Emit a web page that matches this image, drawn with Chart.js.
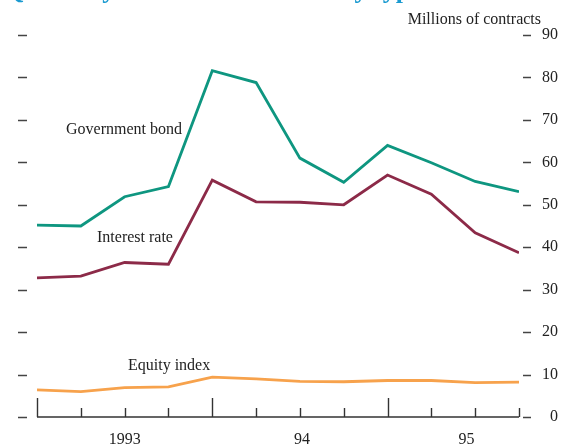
<!DOCTYPE html>
<html>
<head>
<meta charset="utf-8">
<script src="https://cdn.jsdelivr.net/npm/chart.js@4/dist/chart.umd.min.js"></script>
<style>
  html, body { margin: 0; padding: 0; background: #fff; }
  #wrap { width: 563px; height: 448px; position: relative; }
</style>
</head>
<body>
<div id="wrap"><canvas id="chart"></canvas></div>
<script>
// quarters, 1993 Q1 .. 1995 Q4 (positions on the x axis)
const quarters = [0, 1, 2, 3, 4, 5, 6, 7, 8, 9, 10, 11];
const governmentBond = [45.2, 45.0, 51.9, 54.3, 81.6, 78.8, 61.0, 55.3, 64.0, 59.9, 55.5, 53.1];
const interestRate = [32.8, 33.2, 36.4, 36.0, 55.8, 50.7, 50.6, 50.0, 57.0, 52.5, 43.4, 38.7];
const equityIndex = [6.4, 6.0, 6.9, 7.1, 9.4, 9.0, 8.4, 8.3, 8.6, 8.6, 8.1, 8.2];

const yearLabels = ['1993', '94', '95'];
const yearLabelPos = [2, 6.05, 9.8];
const yearStarts = [0, 4, 8];
const yTicks = [0, 10, 20, 30, 40, 50, 60, 70, 80, 90];

const serif = '"Liberation Serif", "DejaVu Serif", serif';

const toPoints = (vals) => vals.map((v, i) => ({ x: quarters[i], y: v }));

// axis line, tick marks, dashes and the text labels
const decorations = {
  id: 'decorations',
  afterDraw(chart) {
    const { ctx, scales: { x, y } } = chart;
    const base = y.getPixelForValue(0);
    ctx.save();
    ctx.strokeStyle = '#333';
    ctx.lineWidth = 1.4;
    ctx.beginPath();
    ctx.moveTo(x.getPixelForValue(0), base);
    ctx.lineTo(x.getPixelForValue(11), base);
    quarters.forEach(q => {
      const px = Math.round(x.getPixelForValue(q)) + 0.5;
      const h = yearStarts.includes(q) ? 19 : 9;
      ctx.moveTo(px, base);
      ctx.lineTo(px, base - h);
    });
    ctx.stroke();

    ctx.strokeStyle = '#444';
    ctx.lineWidth = 1.5;
    ctx.beginPath();
    yTicks.forEach(t => {
      const py = Math.round(y.getPixelForValue(t)) + 0.5;
      ctx.moveTo(18, py); ctx.lineTo(27, py);
      ctx.moveTo(523, py); ctx.lineTo(531, py);
    });
    ctx.stroke();

    ctx.fillStyle = '#222';
    ctx.font = '16px ' + serif;
    ctx.textBaseline = 'middle';
    ctx.textAlign = 'left';
    ctx.fillText('Government bond', 66, 130);
    ctx.fillText('Interest rate', 97, 238);
    ctx.fillText('Equity index', 128, 366);
    ctx.textAlign = 'right';
    ctx.fillText('Millions of contracts', 541, 20);

    // title, mostly cut off by the top edge
    ctx.fillStyle = '#1a9ad0';
    ctx.font = 'bold 26px ' + serif;
    ctx.textAlign = 'left';
    ctx.textBaseline = 'alphabetic';
    ctx.fillText('Quarterly turnover of futures by type', 4, -2);
    ctx.restore();
  }
};

const line = (data, color) => ({
  data: toPoints(data),
  borderColor: color,
  borderWidth: 2.8,
  pointRadius: 0,
  tension: 0,
  fill: false
});

new Chart(document.getElementById('chart'), {
  type: 'line',
  data: {
    datasets: [
      line(governmentBond, '#0e9680'),
      line(interestRate, '#8c2a48'),
      line(equityIndex, '#f7a24c')
    ]
  },
  options: {
    responsive: true,
    maintainAspectRatio: false,
    animation: false,
    layout: { padding: { left: 37, top: 35, right: 5, bottom: 1 } },
    plugins: { legend: { display: false }, tooltip: { enabled: false } },
    scales: {
      x: {
        type: 'linear',
        min: 0,
        max: 11,
        grid: { display: false },
        border: { display: false },
        afterBuildTicks: (scale) => {
          scale.ticks = yearLabelPos.map(v => ({ value: v }));
        },
        afterFit: (scale) => { scale.height = 30; },
        ticks: {
          autoSkip: false,
          maxRotation: 0,
          padding: 5,
          color: '#222',
          font: { family: serif, size: 16 },
          callback: (v) => yearLabels[yearLabelPos.indexOf(v)]
        }
      },
      y: {
        position: 'right',
        min: 0,
        max: 90,
        grid: { display: false },
        border: { display: false },
        afterBuildTicks: (scale) => {
          scale.ticks = yTicks.map(v => ({ value: v }));
        },
        afterFit: (scale) => {
          scale.width = 39;
          scale.paddingTop = 10;
          scale.paddingBottom = 10;
        },
        ticks: {
          padding: 24,
          crossAlign: 'far',
          color: '#222',
          font: { family: serif, size: 16 }
        }
      }
    }
  },
  plugins: [decorations]
});
</script>
</body>
</html>
